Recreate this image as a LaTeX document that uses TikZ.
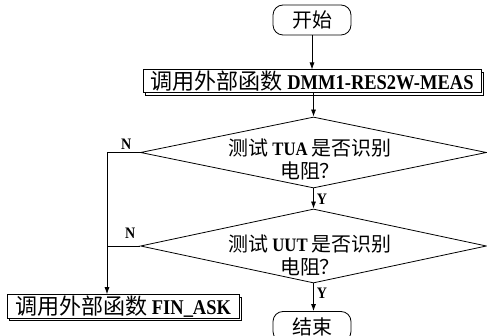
\documentclass[tikz,border=0pt]{standalone}
\usepackage{fontspec}
\setmainfont{Liberation Serif}[FakeStretch=0.88]
\newfontfamily\cjk{Noto Sans CJK SC}[Scale=1.05]
\newcommand\zh[1]{{\cjk\mdseries #1}}
\usetikzlibrary{shapes.geometric,arrows.meta,shadows}
\begin{document}
\begin{tikzpicture}[x=1pt,y=-1pt,
  line width=0.8pt,
  arr/.style={-{Latex[length=7pt,width=5pt]}},
  term/.style={draw, rounded corners=10pt, minimum width=78pt, minimum height=30pt, inner sep=0pt,
    font=\fontsize{19}{22}\selectfont\bfseries},
  proc/.style={draw, fill=white, line width=1pt, minimum height=23pt, inner sep=1pt,
    copy shadow={shadow xshift=2.5pt, shadow yshift=-2.5pt, draw, fill=white, line width=0.8pt},
    font=\fontsize{21}{24}\selectfont\bfseries},
  dec/.style={draw, shape=diamond, minimum width=346pt, minimum height=71pt, inner sep=0pt},
  dtxt/.style={align=center, inner sep=0pt, font=\fontsize{19}{23}\selectfont\bfseries},
  lab/.style={inner sep=1pt, font=\fontsize{16}{16}\selectfont\bfseries}]
\useasboundingbox (0,0) rectangle (487,336);

\node[term] (start) at (312,20) {\zh{开始}};
\node[proc, minimum width=338pt] (p1) at (312,81.5) {\zh{调用外部函数} DMM1-RES2W-MEAS};
\node[dec] (d1) at (313.5,152.5) {};
\node[dtxt] (t1) at (310,159) {\zh{测试} TUA \zh{是否识别}\\\zh{电阻？}};
\node[dec, minimum height=74pt] (d2) at (313.5,246) {};
\node[dtxt] (t2) at (310,255) {\zh{测试} UUT \zh{是否识别}\\\zh{电阻？}};
\node[proc, minimum width=232pt] (fin) at (123,306.5) {\zh{调用外部函数} FIN\_ASK};
\node[term] (end) at (312,326.5) {\zh{结束}};
\coordinate (c1) at (107,152.5);

\draw[arr] (start) -- (p1);
\draw[arr] (p1.south -| d1.north) -- (d1.north);
\draw[arr] (d1.south) -- node[lab, right, pos=0.55, xshift=2pt] (y1) {Y} (d2.north);
\draw[arr] (d2.south) -- node[lab, right, pos=0.35, xshift=2pt] (y2) {Y} (end.north -| d2.south);
\draw (d1.west) -- node[lab, above, pos=0.42, yshift=2pt] (n1) {N} (c1);
\draw[arr] (c1) -- (c1 |- fin.north);
\draw (d2.west) -- node[lab, above, pos=0.3, yshift=6pt] (n2) {N} (d2.west -| c1);
\end{tikzpicture}
\end{document}
